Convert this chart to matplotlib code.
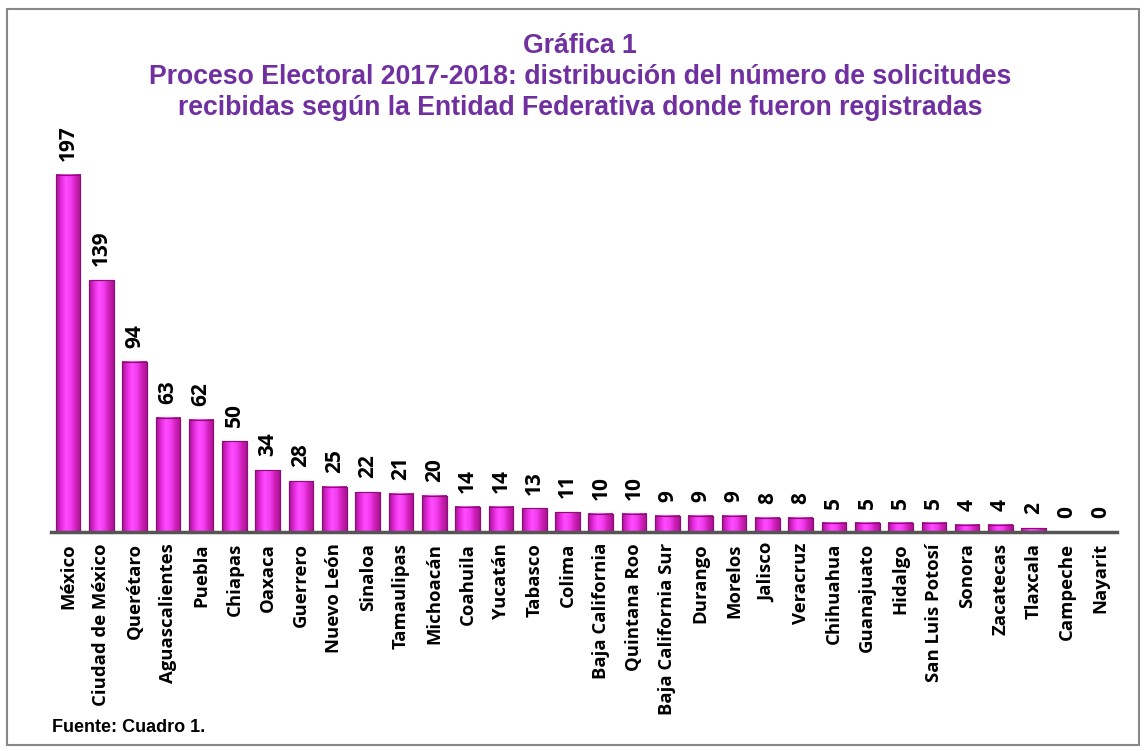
import numpy as np
import matplotlib.pyplot as plt
from matplotlib.patches import Rectangle
from matplotlib.colors import LinearSegmentedColormap

# data
estados = ['México', 'Ciudad de México', 'Querétaro', 'Aguascalientes', 'Puebla',
           'Chiapas', 'Oaxaca', 'Guerrero', 'Nuevo León', 'Sinaloa', 'Tamaulipas',
           'Michoacán', 'Coahuila', 'Yucatán', 'Tabasco', 'Colima', 'Baja California',
           'Quintana Roo', 'Baja California Sur', 'Durango', 'Morelos', 'Jalisco',
           'Veracruz', 'Chihuahua', 'Guanajuato', 'Hidalgo', 'San Luis Potosí',
           'Sonora', 'Zacatecas', 'Tlaxcala', 'Campeche', 'Nayarit']
solicitudes = [197, 139, 94, 63, 62, 50, 34, 28, 25, 22, 21, 20, 14, 14, 13, 11,
               10, 10, 9, 9, 9, 8, 8, 5, 5, 5, 5, 4, 4, 2, 0, 0]

titulo = 'Gráfica 1\nProceso Electoral 2017-2018: distribución del número de solicitudes\nrecibidas según la Entidad Federativa donde fueron registradas'
fuente = 'Fuente: Cuadro 1.'

purple = '#7030A0'
lbl_font = 'Open Sans'

fig = plt.figure(figsize=(11.46, 7.51), dpi=100)
ax = fig.add_axes([51.3 / 1146, (751 - 532) / 751, (1117 - 51.3) / 1146, 402 / 751])

x = np.arange(len(estados))
bars = ax.bar(x, solicitudes, width=0.74, color='#E020D0', edgecolor='#8A1070',
              linewidth=0.8, zorder=2)

# cylinder-ish shading on each bar
shade = LinearSegmentedColormap.from_list('shade', ['#A0128C', '#E42ADC', '#FF4CFF',
                                                     '#F23CF0', '#D020B8', '#A81296'])
grad = np.linspace(0, 1, 64).reshape(1, -1)
for b in bars:
    if b.get_height() <= 0:
        continue
    ax.imshow(grad, cmap=shade, aspect='auto', zorder=3,
              extent=(b.get_x(), b.get_x() + b.get_width(), 0, b.get_height()))
    ax.add_patch(Rectangle((b.get_x(), 0), b.get_width(), b.get_height(), fill=False,
                           edgecolor='#8A1070', linewidth=0.8, zorder=4))

for xi, v in zip(x, solicitudes):
    ax.annotate(str(v), (xi, v), xytext=(0, 10), textcoords='offset points',
                ha='center', va='bottom', rotation=90, fontsize=15,
                fontweight='bold', family=lbl_font)

ax.set_xlim(-0.5, len(estados) - 0.5)
ax.set_ylim(0, 221.8)
ax.set_xticks(x)
ax.set_xticklabels(estados, rotation=90, fontsize=13.3, fontweight='bold', family=lbl_font)
ax.tick_params(axis='x', length=0, pad=8)
ax.set_yticks([])
for s in ['top', 'right', 'left']:
    ax.spines[s].set_visible(False)
ax.spines['bottom'].set_color('#555555')
ax.spines['bottom'].set_linewidth(2.5)
ax.spines['bottom'].set_zorder(5)

fig.text(0.506, 1 - 33 / 751, titulo, ha='center', va='top', color=purple, fontsize=19.2,
         fontweight='bold', family='Liberation Sans', linespacing=1.24)
fig.text(52 / 1146, 1 - 727 / 751, fuente, ha='left', va='center', fontsize=13,
         fontweight='bold', family='Liberation Sans')

fig.add_artist(Rectangle((7 / 1146, 6 / 751), 1 - 14 / 1146, 1 - 15 / 751,
                         transform=fig.transFigure, fill=False,
                         edgecolor='#888888', linewidth=1.5))

fig.savefig('out.png', dpi=100)
